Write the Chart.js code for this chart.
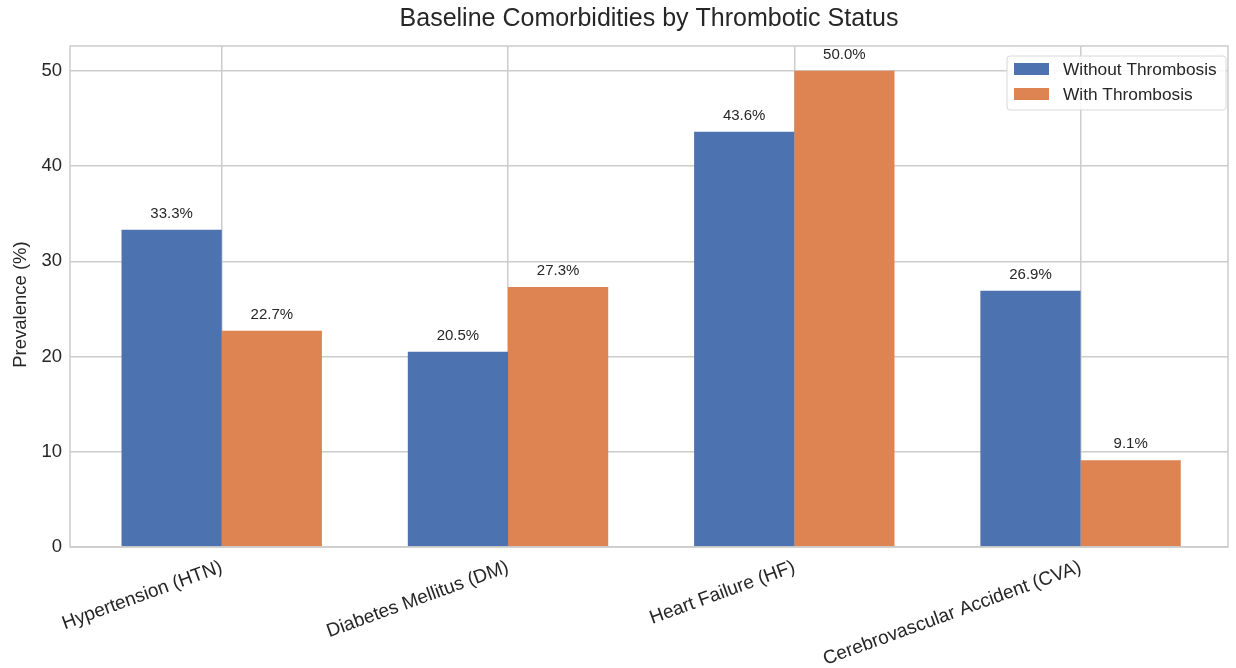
<!DOCTYPE html>
<html>
<head>
<meta charset="utf-8">
<title>Baseline Comorbidities by Thrombotic Status</title>
<script src="https://cdn.jsdelivr.net/npm/chart.js@4.4.0/dist/chart.umd.min.js"></script>
<style>
  html, body { margin: 0; padding: 0; background: #ffffff; }
  #wrap { width: 1236px; height: 668px; }
</style>
</head>
<body>
<div id="wrap"><canvas id="myChart" width="1236" height="668"></canvas></div>
<script>
// DATA
const categories = ['Hypertension (HTN)', 'Diabetes Mellitus (DM)', 'Heart Failure (HF)', 'Cerebrovascular Accident (CVA)'];
const seriesNames = ['Without Thrombosis', 'With Thrombosis'];
const withoutThrombosis = [33.3, 20.5, 43.6, 26.9];
const withThrombosis = [22.7, 27.3, 50.0, 9.1];
const yTicks = [0, 10, 20, 30, 40, 50];

const chartTitle = 'Baseline Comorbidities by Thrombotic Status';
const yTitle = 'Prevalence (%)';

// look
const FONT = "'Liberation Sans', Arial, Helvetica, sans-serif";
const TEXT = '#262626';
const GRID = '#cccccc';
const BLUE = '#4c72b0';
const ORANGE = '#dd8452';

// title, y label, value labels, frame and legend drawn on top
const extras = {
    id: 'extras',
    afterDatasetsDraw(chart) {
        const ctx = chart.ctx;
        const area = chart.chartArea;
        ctx.save();

        // value labels above bars
        ctx.font = '15px ' + FONT;
        ctx.fillStyle = TEXT;
        ctx.textAlign = 'center';
        ctx.textBaseline = 'alphabetic';
        chart.data.datasets.forEach((ds, di) => {
            chart.getDatasetMeta(di).data.forEach((bar, i) => {
                ctx.fillText(ds.data[i].y.toFixed(1) + '%', bar.x, bar.y - 12);
            });
        });

        // box around the plot
        ctx.strokeStyle = GRID;
        ctx.lineWidth = 1.5;
        ctx.strokeRect(area.left, area.top, area.right - area.left, area.bottom - area.top);

        // title
        ctx.font = '25px ' + FONT;
        ctx.fillStyle = TEXT;
        ctx.textBaseline = 'middle';
        ctx.fillText(chartTitle, (area.left + area.right) / 2, 19);

        // y axis label
        ctx.save();
        ctx.translate(21, (area.top + area.bottom) / 2 + 8);
        ctx.rotate(-Math.PI / 2);
        ctx.font = '18.5px ' + FONT;
        ctx.fillText(yTitle, 0, 0);
        ctx.restore();

        // legend (upper right, inside plot)
        const boxW = 219, boxH = 54;
        const bx = area.right - boxW - 2;
        const by = area.top + 10;
        ctx.beginPath();
        ctx.roundRect(bx, by, boxW, boxH, 3);
        ctx.fillStyle = 'rgba(255,255,255,0.85)';
        ctx.fill();
        ctx.strokeStyle = '#d8d8d8';
        ctx.lineWidth = 1;
        ctx.stroke();

        const colors = [BLUE, ORANGE];
        ctx.font = '17.3px ' + FONT;
        ctx.textAlign = 'left';
        seriesNames.forEach((name, i) => {
            const cy = by + 13 + i * 25;
            ctx.fillStyle = colors[i];
            ctx.fillRect(bx + 7, cy - 6, 35, 12);
            ctx.fillStyle = TEXT;
            ctx.fillText(name, bx + 56, cy + 1);
        });

        ctx.restore();
    }
};

const data = {
    datasets: [
        {
            label: seriesNames[0],
            data: withoutThrombosis.map((v, i) => ({ x: i, y: v })),
            backgroundColor: BLUE,
            borderWidth: 0,
            categoryPercentage: 0.7,
            barPercentage: 1.0
        },
        {
            label: seriesNames[1],
            data: withThrombosis.map((v, i) => ({ x: i, y: v })),
            backgroundColor: ORANGE,
            borderWidth: 0,
            categoryPercentage: 0.7,
            barPercentage: 1.0
        }
    ]
};

const config = {
    type: 'bar',
    data: data,
    plugins: [extras],
    options: {
        responsive: false,
        animation: false,
        devicePixelRatio: 1,
        layout: { padding: { top: 46, right: 8, left: 0, bottom: 0 } },
        plugins: {
            legend: { display: false },
            title: { display: false },
            tooltip: { enabled: false }
        },
        scales: {
            x: {
                type: 'linear',
                min: -0.53,
                max: 3.515,
                offset: false,
                grid: { color: GRID, lineWidth: 1.5, drawTicks: false, offset: false },
                border: { display: false },
                afterBuildTicks: (scale) => {
                    scale.ticks = categories.map((c, i) => ({ value: i }));
                },
                afterFit: (scale) => {
                    scale.height = 121;
                    scale.paddingLeft = 0;
                    scale.paddingRight = 0;
                },
                ticks: {
                    autoSkip: false,
                    minRotation: 20,
                    maxRotation: 20,
                    padding: 9,
                    color: TEXT,
                    font: { family: FONT, size: 19 },
                    callback: (v) => categories[v]
                }
            },
            y: {
                min: 0,
                max: 52.6,
                grid: { color: GRID, lineWidth: 1.5, drawTicks: false },
                border: { display: false },
                afterBuildTicks: (scale) => {
                    scale.ticks = yTicks.map(v => ({ value: v }));
                },
                afterFit: (scale) => {
                    scale.width = 70;
                    scale.paddingTop = 0;
                    scale.paddingBottom = 0;
                },
                ticks: {
                    padding: 8,
                    color: TEXT,
                    font: { family: FONT, size: 18.5 }
                }
            }
        }
    }
};

const myChart = new Chart(document.getElementById('myChart'), config);
</script>
</body>
</html>
